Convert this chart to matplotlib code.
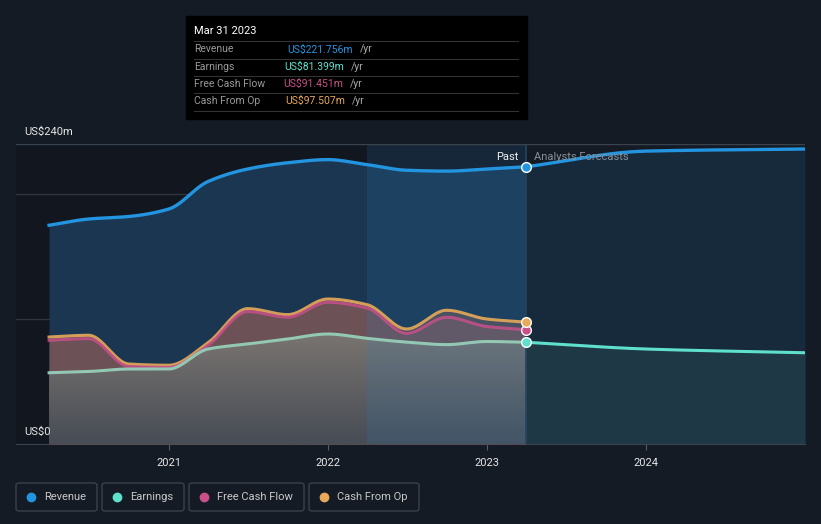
import numpy as np
import pandas as pd
import matplotlib
matplotlib.use("Agg")
import matplotlib.pyplot as plt
import matplotlib.dates as mdates
from matplotlib.patches import FancyBboxPatch, Rectangle
from matplotlib.lines import Line2D
from matplotlib.colors import LinearSegmentedColormap

plt.rcParams['font.family'] = ['Roboto', 'DejaVu Sans']

# ---- data (US$ m, trailing twelve months) ----
past_dates = ["2020-03-31", "2020-06-30", "2020-09-30", "2020-12-31",
              "2021-03-31", "2021-06-30", "2021-09-30", "2021-12-31",
              "2022-03-31", "2022-06-30", "2022-09-30", "2022-12-31",
              "2023-03-31"]
revenue = [175, 180, 182, 188, 210, 220, 225, 227.5, 223.5, 219, 218.3, 220, 221.756]
earnings = [57, 58, 60, 60, 76, 80, 84, 88, 84.5, 81.5, 79.5, 82, 81.399]
free_cash_flow = [83, 84.3, 62, 61.3, 79, 106, 101.5, 113.4, 108.8, 88.5, 101.4, 94, 91.451]
cash_from_op = [85.6, 87, 64, 63, 81, 108.3, 103.5, 116, 111.5, 92, 107, 100, 97.507]

fc_dates = ["2023-03-31", "2023-12-31", "2024-12-31"]
revenue_fc = [221.756, 234.3, 236]
earnings_fc = [81.399, 76, 73]

y_ticks = [0, 100, 200, 240]

BG = '#151b24'
C_REV = '#2394df'
C_EARN = '#5ee0cc'
C_FCF = '#c9508a'
C_CFO = '#e8aa58'


def smooth(dates, vals, n=300):
    # monotone cubic (Fritsch-Carlson) through the points
    x = mdates.date2num(pd.to_datetime(dates))
    y = np.asarray(vals, float)
    h = np.diff(x)
    d = np.diff(y) / h
    m = np.zeros_like(y)
    m[0], m[-1] = d[0], d[-1]
    for i in range(1, len(y) - 1):
        if d[i - 1] * d[i] <= 0:
            m[i] = 0
        else:
            w1 = 2 * h[i] + h[i - 1]
            w2 = h[i] + 2 * h[i - 1]
            m[i] = (w1 + w2) / (w1 / d[i - 1] + w2 / d[i])
    xs = np.linspace(x[0], x[-1], n)
    idx = np.clip(np.searchsorted(x, xs) - 1, 0, len(h) - 1)
    t = (xs - x[idx]) / h[idx]
    ys = ((2 * t**3 - 3 * t**2 + 1) * y[idx] + (t**3 - 2 * t**2 + t) * h[idx] * m[idx]
          + (-2 * t**3 + 3 * t**2) * y[idx + 1] + (t**3 - t**2) * h[idx] * m[idx + 1])
    return xs, ys


W, H = 821, 524
fig = plt.figure(figsize=(W / 100, H / 100), dpi=100, facecolor=BG)
ax = fig.add_axes([16 / W, 1 - 444 / H, 789 / W, 300 / H])
ax.set_facecolor('#12171f')

xr, yr = smooth(past_dates, revenue)
xe, ye = smooth(past_dates, earnings)
xf, yf = smooth(past_dates, free_cash_flow)
xc, yc = smooth(past_dates, cash_from_op)
xrf, yrf = smooth(fc_dates, revenue_fc)
xef, yef = smooth(fc_dates, earnings_fc)

x_now = mdates.date2num(pd.Timestamp(fc_dates[0]))
x_hl = mdates.date2num(pd.Timestamp(past_dates[8]))
xlim = (mdates.date2num(pd.Timestamp("2020-01-15")), mdates.date2num(pd.Timestamp("2024-12-31")))

# forecast background
ax.axvspan(x_now, xlim[1], color=BG, zorder=0, lw=0)

# past fills
ax.fill_between(xr, 0, yr, color='#1a3650', lw=0, zorder=1)
ax.fill_between(xc, 0, yc, color='#4e4a52', lw=0, zorder=2)
ax.fill_between(xf, 0, yf, color='#6c5256', lw=0, zorder=3)
poly = ax.fill_between(xe, 0, ye, color='none', lw=0, zorder=4)
cmap = LinearSegmentedColormap.from_list('earn', ['#474c55', '#7a7571'])
grad = np.linspace(0, 1, 100).reshape(-1, 1)
im = ax.imshow(grad, cmap=cmap, aspect='auto', origin='lower',
               extent=[xe[0], xe[-1], 0, 90], zorder=4)
im.set_clip_path(poly.get_paths()[0], transform=ax.transData)

# forecast fills
ax.fill_between(xrf, 0, yrf, color='#172a3c', lw=0, zorder=1)
ax.fill_between(xef, 0, yef, color='#1e3945', lw=0, zorder=2)

# last-year highlight
ax.axvspan(x_hl, x_now, color='#2a80c0', alpha=0.16, lw=0, zorder=5)

# gridlines
for yv in y_ticks[1:]:
    ax.axhline(yv, color='#2e3642', lw=0.9, zorder=0.5)
ax.axhline(240, color='#3a424e', lw=0.9, zorder=6)

# lines
ax.plot(xc, yc, color=C_CFO, lw=2.2, zorder=7, alpha=0.9)
ax.plot(xf, yf, color=C_FCF, lw=2.2, zorder=8, alpha=0.85)
ax.plot(xe, ye, color='#93c8b4', lw=2.2, zorder=9)
ax.plot(xr, yr, color=C_REV, lw=2.4, zorder=9)
ax.plot(xrf, yrf, color=C_REV, lw=2.4, zorder=9)
ax.plot(xef, yef, color=C_EARN, lw=2.2, zorder=9)

ax.axvline(x_now, color='#24445f', lw=1.2, zorder=6)

for v, c in [(revenue[-1], C_REV), (earnings[-1], C_EARN),
             (free_cash_flow[-1], C_FCF), (cash_from_op[-1], C_CFO)]:
    ax.plot([x_now], [v], 'o', ms=7, color=c, mec='white', mew=1, zorder=12)

ax.text(x_now - 18, 230, "Past", color='#f0f0f0', fontsize=8, ha='right', va='center', zorder=13)
ax.text(x_now + 18, 230, "Analysts Forecasts", color='#8a9099', fontsize=8, ha='left', va='center', zorder=13)

ax.set_xlim(*xlim)
ax.set_ylim(0, 240)
ax.xaxis.set_major_locator(mdates.YearLocator())
ax.xaxis.set_major_formatter(mdates.DateFormatter('%Y'))
ax.tick_params(axis='x', colors='#555c66', labelcolor='#e6e6e6', labelsize=8, length=4, pad=6)
ax.set_yticks([])
for s in ['top', 'left', 'right']:
    ax.spines[s].set_visible(False)
ax.spines['bottom'].set_color('#3a424e')

fig.text(24 / W, 1 - 132 / H, "US$240m", color='#e6e6e6', fontsize=8, va='center')
fig.text(24 / W, 1 - 432 / H, "US$0", color='#e6e6e6', fontsize=8, va='center')

# tooltip
fig.patches.append(Rectangle((186 / W, 1 - 119 / H), 341 / W, 103 / H,
                             transform=fig.transFigure, color='black', zorder=20))
fig.text(194 / W, 1 - 31 / H, "Mar 31 2023", color='white', fontsize=8, va='center', zorder=21)
rows = [("Revenue", "US$221.756m", C_REV, 49.5, 287),
        ("Earnings", "US$81.399m", C_EARN, 66.5, 284),
        ("Free Cash Flow", "US$91.451m", C_FCF, 84, 283),
        ("Cash From Op", "US$97.507m", C_CFO, 101, 285)]
for ly in [41.3, 58.7, 76.3, 93.3, 111]:
    fig.lines.append(Line2D([194 / W, 518 / W], [1 - ly / H, 1 - ly / H], transform=fig.transFigure,
                            color='#333333', lw=0.8, zorder=21))
for lab, val, col, yy, vx in rows:
    fig.text(194 / W, 1 - yy / H, lab, color='#9a9a9a', fontsize=7.5, va='center', zorder=21)
    fig.text(vx / W, 1 - yy / H, val, color=col, fontsize=7.5, va='center', zorder=21)
    fig.text((vx + len(val) * 6.4 + 3) / W, 1 - yy / H, "/yr", color='#aaaaaa', fontsize=7.5,
             va='center', zorder=21)

# legend
items = [("Revenue", C_REV, 16, 97), ("Earnings", C_EARN, 102, 184),
         ("Free Cash Flow", C_FCF, 189, 304), ("Cash From Op", C_CFO, 309, 419)]
for lab, col, x0, x1 in items:
    fig.patches.append(FancyBboxPatch((x0 / W, 1 - 511 / H), (x1 - x0) / W, 28 / H,
                                      boxstyle='round,pad=0,rounding_size=0.004',
                                      transform=fig.transFigure, fc='none', ec='#3a414b', lw=1))
    fig.lines.append(Line2D([(x0 + 15) / W], [1 - 497 / H], marker='o', ms=6, color=col,
                            mec=col, transform=fig.transFigure))
    fig.text((x0 + 28) / W, 1 - 497 / H, lab, color='#c8c8c8', fontsize=8, va='center')

fig.savefig('out.png', dpi=100, facecolor=BG)
